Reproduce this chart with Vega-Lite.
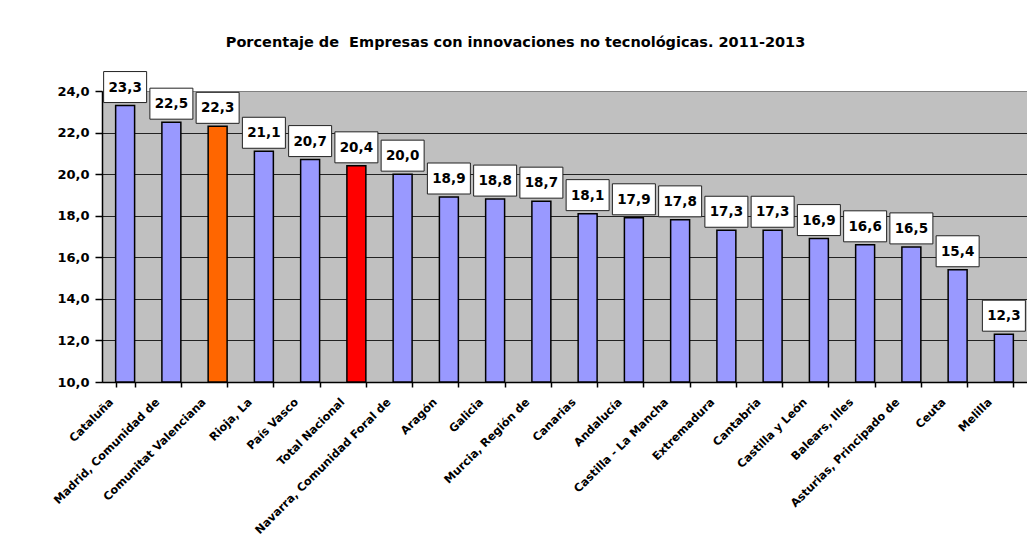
{
  "$schema": "https://vega.github.io/schema/vega-lite/v6.json",
  "width": 925,
  "height": 291,
  "autosize": "none",
  "padding": {"left": 102, "top": 91, "right": 0, "bottom": 161},
  "background": "white",
  "title": {
    "text": "Porcentaje de\u00a0 Empresas con innovaciones no tecnológicas. 2011-2013",
    "font": "DejaVu Sans",
    "fontSize": 14.5,
    "fontWeight": "bold",
    "color": "black",
    "anchor": "middle",
    "dx": -49,
    "offset": 21
  },
  "config": {
    "view": {"stroke": "#808080", "fill": "#C0C0C0"},
    "locale": {"number": {"decimal": ",", "thousands": ".", "grouping": [3], "currency": ["", " €"]}}
  },
  "data": {
    "values": [
      {"region": "Cataluña", "value": 23.3, "grp": "r"},
      {"region": "Madrid, Comunidad de", "value": 22.5, "grp": "r"},
      {"region": "Comunitat Valenciana", "value": 22.3, "grp": "cv"},
      {"region": "Rioja, La", "value": 21.1, "grp": "r"},
      {"region": "País Vasco", "value": 20.7, "grp": "r"},
      {"region": "Total Nacional", "value": 20.4, "grp": "tn"},
      {"region": "Navarra, Comunidad Foral de", "value": 20.0, "grp": "r"},
      {"region": "Aragón", "value": 18.9, "grp": "r"},
      {"region": "Galicia", "value": 18.8, "grp": "r"},
      {"region": "Murcia, Región de", "value": 18.7, "grp": "r"},
      {"region": "Canarias", "value": 18.1, "grp": "r"},
      {"region": "Andalucía", "value": 17.9, "grp": "r"},
      {"region": "Castilla - La Mancha", "value": 17.8, "grp": "r"},
      {"region": "Extremadura", "value": 17.3, "grp": "r"},
      {"region": "Cantabria", "value": 17.3, "grp": "r"},
      {"region": "Castilla y León", "value": 16.9, "grp": "r"},
      {"region": "Balears, Illes", "value": 16.6, "grp": "r"},
      {"region": "Asturias, Principado de", "value": 16.5, "grp": "r"},
      {"region": "Ceuta", "value": 15.4, "grp": "r"},
      {"region": "Melilla", "value": 12.3, "grp": "r"}
    ]
  },
  "encoding": {
    "x": {
      "field": "region",
      "type": "nominal",
      "sort": null,
      "scale": {"paddingInner": 0.59, "paddingOuter": 0.295},
      "axis": {
        "title": null,
        "labelAngle": -45,
        "labelFont": "DejaVu Sans",
        "labelFontSize": 11.3,
        "labelFontWeight": "bold",
        "labelColor": "black",
        "labelPadding": 9,
        "labelOffset": -18,
        "labelLimit": 400,
        "domainColor": "black",
        "domainWidth": 1.5,
        "tickColor": "black",
        "tickWidth": 1.5,
        "tickSize": 5,
        "tickBand": "extent",
        "grid": false,
        "labelOverlap": false
      }
    },
    "y": {
      "field": "value",
      "type": "quantitative",
      "scale": {"domain": [10, 24], "zero": false, "nice": false},
      "axis": {
        "title": null,
        "values": [10, 12, 14, 16, 18, 20, 22, 24],
        "format": ".1f",
        "labelFont": "DejaVu Sans",
        "labelFontSize": 13,
        "labelFontWeight": "bold",
        "labelColor": "black",
        "labelPadding": 6,
        "domainColor": "black",
        "domainWidth": 1.5,
        "tickColor": "black",
        "tickWidth": 1.5,
        "tickSize": 7,
        "grid": true,
        "gridColor": {"condition": {"test": "datum.value == 24", "value": "#808080"}, "value": "#222222"},
        "gridWidth": 1.2
      }
    }
  },
  "layer": [
    {
      "mark": {"type": "bar", "stroke": "black", "strokeWidth": 1.5},
      "encoding": {
        "y2": {"datum": 10},
        "color": {
          "field": "grp",
          "type": "nominal",
          "scale": {"domain": ["r", "cv", "tn"], "range": ["#9999FF", "#FF6600", "#FF0000"]},
          "legend": null
        }
      }
    },
    {
      "mark": {"type": "rect", "fill": "white", "stroke": "#222222", "strokeWidth": 1, "width": 43, "yOffset": -3, "y2Offset": -34},
      "encoding": {
        "y2": {"field": "value"}
      }
    },
    {
      "mark": {"type": "text", "font": "DejaVu Sans", "fontSize": 13.5, "fontWeight": "bold", "color": "black", "baseline": "middle", "align": "center", "dy": -18},
      "encoding": {
        "text": {"field": "value", "type": "quantitative", "format": ".1f"}
      }
    }
  ]
}
